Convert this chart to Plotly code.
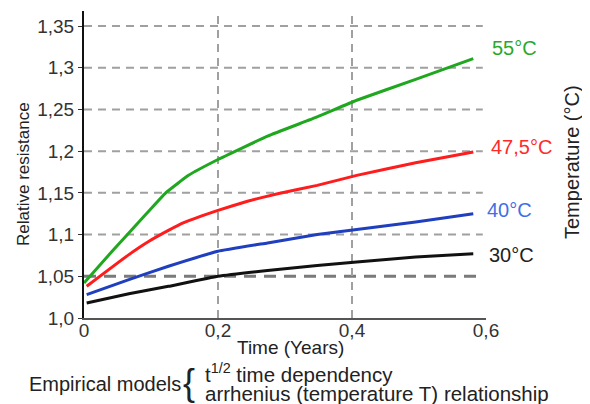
import plotly.graph_objects as go

# ---- data ----
x_55 = [0.0, 0.042, 0.092, 0.122, 0.156, 0.2, 0.274, 0.348, 0.407, 0.495, 0.581]
y_55 = [1.042, 1.08, 1.124, 1.15, 1.171, 1.19, 1.218, 1.241, 1.261, 1.286, 1.311]

x_475 = [0.004, 0.067, 0.097, 0.126, 0.148, 0.2, 0.244, 0.289, 0.348, 0.407, 0.495, 0.581]
y_475 = [1.038, 1.076, 1.092, 1.105, 1.114, 1.129, 1.14, 1.149, 1.159, 1.171, 1.186, 1.199]

x_40 = [0.004, 0.067, 0.126, 0.2, 0.274, 0.348, 0.407, 0.495, 0.581]
y_40 = [1.028, 1.046, 1.062, 1.08, 1.09, 1.1, 1.106, 1.115, 1.125]

x_30 = [0.004, 0.067, 0.126, 0.2, 0.274, 0.348, 0.407, 0.495, 0.581]
y_30 = [1.018, 1.029, 1.038, 1.05, 1.057, 1.063, 1.067, 1.073, 1.077]

series_labels = ["55°C", "47,5°C", "40°C", "30°C"]
y_tick_vals = [1.0, 1.05, 1.1, 1.15, 1.2, 1.25, 1.3, 1.35]
y_tick_text = ["1,0", "1,05", "1,1", "1,15", "1,2", "1,25", "1,3", "1,35"]
x_tick_vals = [0, 0.2, 0.4, 0.6]
x_tick_text = ["0", "0,2", "0,4", "0,6"]
x_grid_vals = [0.2, 0.4]

FONT = "Liberation Sans, Arial, sans-serif"

# (x, y, line colour, label colour, label x shift, label y shift)
series = [
    (x_55, y_55, "#1fa81f", "#2aa82a", 17, 11),
    (x_475, y_475, "#ff1c1c", "#ff2a2a", 16, 5),
    (x_40, y_40, "#1f3fbf", "#3f6fe6", 12, 4),
    (x_30, y_30, "#111111", "#222222", 14, -1),
]

# page offset (browser body margin) compensation
OFF = 8
W, H = 590 - OFF, 404 - OFF
L, T = 84 - OFF, 11 - OFF
R = W - (486 - OFF)
B = H - (318 - OFF)
pw, ph = W - L - R, H - T - B


def px(xp):
    return (xp - OFF - L) / pw


def py(yp):
    return 1 - (yp - OFF - T) / ph


fig = go.Figure()
shapes = []
for v in y_tick_vals[1:]:
    special = abs(v - 1.05) < 1e-9
    shapes.append(dict(type="line", xref="paper", yref="y", x0=0, x1=0.992, y0=v, y1=v,
                       line=dict(color="#7a7a7a" if special else "#a0a0a0",
                                 width=3 if special else 2,
                                 dash="12px,8px" if special else "8px,6px"),
                       layer="below"))
for v in x_grid_vals:
    shapes.append(dict(type="line", xref="x", yref="paper", x0=v, x1=v, y0=0, y1=0.995,
                       line=dict(color="#a0a0a0", width=2, dash="8px,6px"), layer="below"))

annotations = []
for (xs, ys, col, lcol, xsh, ysh), lab in zip(series, series_labels):
    fig.add_trace(go.Scatter(x=xs, y=ys, mode="lines",
                             line=dict(color=col, width=3, shape="spline", smoothing=0.3),
                             showlegend=False, hoverinfo="skip"))
    annotations.append(dict(x=xs[-1], y=ys[-1], xref="x", yref="y", text=lab,
                            showarrow=False, xanchor="left", yanchor="middle",
                            xshift=xsh, yshift=ysh,
                            font=dict(family=FONT, size=20, color=lcol)))

annotations += [
    dict(x=px(290), y=py(347), xref="paper", yref="paper", text="Time (Years)",
         showarrow=False, xanchor="center", yanchor="middle",
         font=dict(family=FONT, size=19, color="#222")),
    dict(x=px(23), y=py(174), xref="paper", yref="paper", text="Relative resistance",
         showarrow=False, textangle=-90, xanchor="center", yanchor="middle",
         font=dict(family=FONT, size=17, color="#222")),
    dict(x=px(572), y=py(162), xref="paper", yref="paper", text="Temperature (°C)",
         showarrow=False, textangle=-90, xanchor="center", yanchor="middle",
         font=dict(family=FONT, size=20, color="#222")),
    dict(x=px(27), y=py(384), xref="paper", yref="paper", text="Empirical models",
         showarrow=False, xanchor="left", yanchor="middle",
         font=dict(family=FONT, size=20, color="#222")),
    dict(x=px(181), y=py(382), xref="paper", yref="paper", text="{",
         showarrow=False, xanchor="left", yanchor="middle",
         font=dict(family=FONT, size=36, color="#222")),
    dict(x=px(203), y=py(373), xref="paper", yref="paper",
         text="t<sup>1/2</sup> time dependency",
         showarrow=False, xanchor="left", yanchor="middle",
         font=dict(family=FONT, size=20.5, color="#222")),
    dict(x=px(203), y=py(393), xref="paper", yref="paper",
         text="arrhenius (temperature T) relationship",
         showarrow=False, xanchor="left", yanchor="middle",
         font=dict(family=FONT, size=20.5, color="#222")),
]

fig.update_layout(
    width=W, height=H,
    margin=dict(l=L, r=R, t=T, b=B, pad=0),
    paper_bgcolor="white", plot_bgcolor="white",
    shapes=shapes, annotations=annotations,
    font=dict(family=FONT, color="#333"),
    xaxis=dict(range=[0, 0.6], tickvals=x_tick_vals, ticktext=x_tick_text,
               showgrid=False, zeroline=False, showline=True, linecolor="#555",
               linewidth=2, ticks="", ticklabelstandoff=-6,
               tickfont=dict(size=19, color="#333")),
    yaxis=dict(range=[1.0, 1.368], tickvals=y_tick_vals, ticktext=y_tick_text,
               showgrid=False, zeroline=False, showline=True, linecolor="#111",
               linewidth=2, ticks="outside", ticklen=4, tickcolor="#333",
               tickfont=dict(size=19, color="#333")),
)

fig.write_html("out.html")
